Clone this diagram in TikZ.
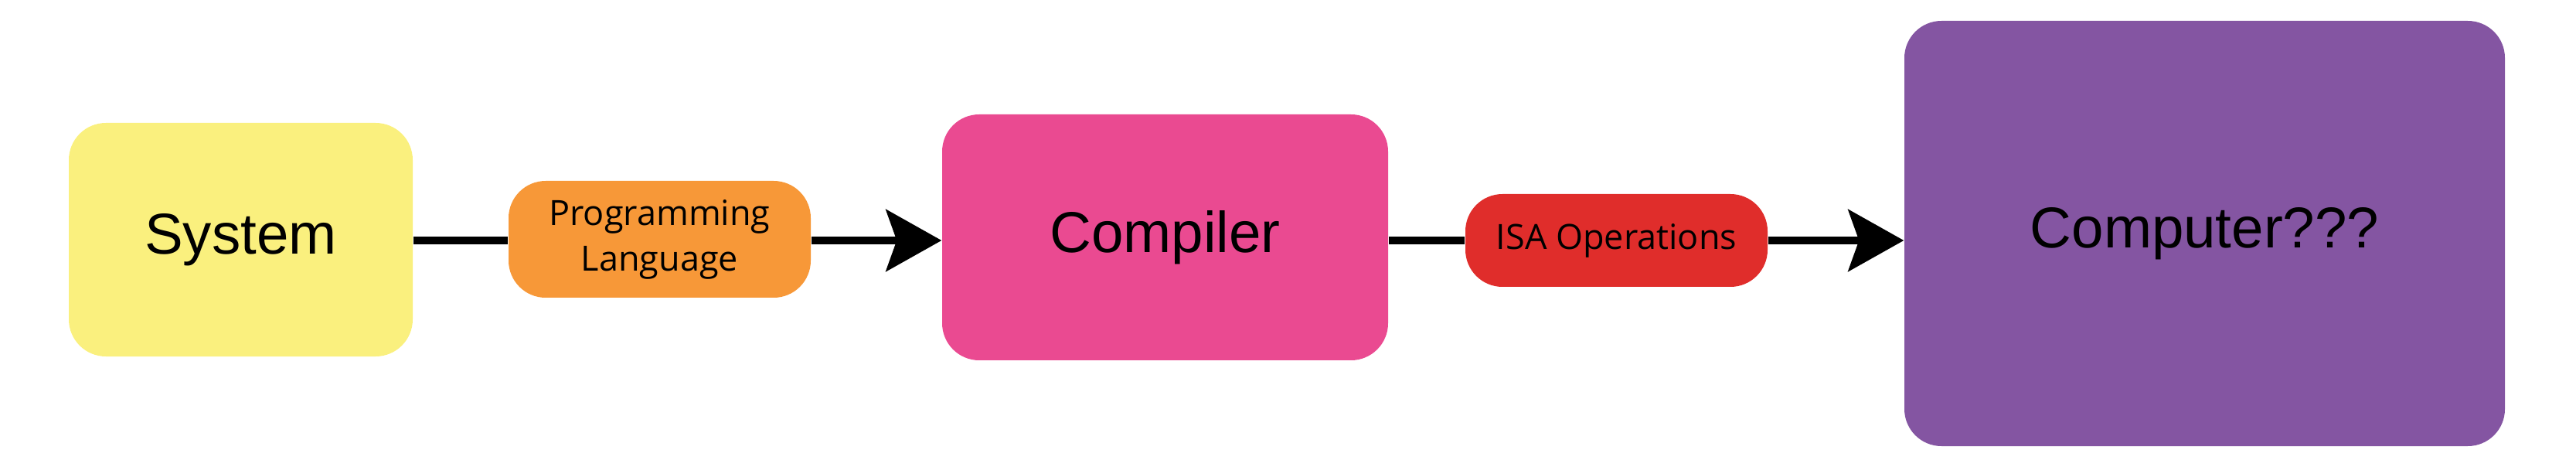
\documentclass[tikz,border=0pt]{standalone}
\usepackage{fontspec}
\setmainfont{Open Sans}
\newfontfamily\blockfont{Liberation Sans}
\usepackage{xcolor}
\usepackage{tikz}
\usetikzlibrary{arrows.meta}

\definecolor{sysyellow}{RGB}{250,240,126}
\definecolor{langorange}{RGB}{247,152,56}
\definecolor{comppink}{RGB}{234,74,145}
\definecolor{isared}{RGB}{224,45,43}
\definecolor{cpupurple}{RGB}{132,85,162}

\begin{document}
\begin{tikzpicture}[
    block/.style={rounded corners=0.48cm, inner sep=0pt, align=center,
        font=\blockfont\fontsize{21.2}{25}\selectfont},
    tag/.style={rounded corners=0.48cm, inner sep=0pt, align=center,
        font=\fontsize{12.8}{16.8}\selectfont},
    flow/.style={line width=2.6pt},
    flowtip/.style={flow, -{Stealth[length=7.2mm, width=8mm, inset=1.4mm]}}
]
    \useasboundingbox (0,0) rectangle (33.33,6.03);

    % Blocks
    \node[block, fill=sysyellow, minimum width=4.45cm, minimum height=3.02cm] (system) at (3.115,2.93) {System};
    \node[block, fill=comppink, minimum width=5.77cm, minimum height=3.18cm] (compiler) at (15.075,2.96) {Compiler};
    \node[block, fill=cpupurple, minimum width=7.77cm, minimum height=5.5cm] (computer) at (28.525,3.01) {Computer???};

    % Labels on the connectors
    \node[tag, fill=langorange, minimum width=3.91cm, minimum height=1.51cm] (lang) at (8.535,2.935) {Programming\\Language};
    \node[tag, fill=isared, minimum width=3.91cm, minimum height=1.2cm] (isa) at (20.915,2.92) {ISA Operations};

    % Connectors
    \draw[flow] (system.east |- 0,2.92) -- (lang.west |- 0,2.92);
    \draw[flowtip] (lang.east |- 0,2.92) -- (compiler.west |- 0,2.92);
    \draw[flow] (compiler.east |- 0,2.92) -- (isa.west |- 0,2.92);
    \draw[flowtip] (isa.east |- 0,2.92) -- (computer.west |- 0,2.92);
\end{tikzpicture}
\end{document}
